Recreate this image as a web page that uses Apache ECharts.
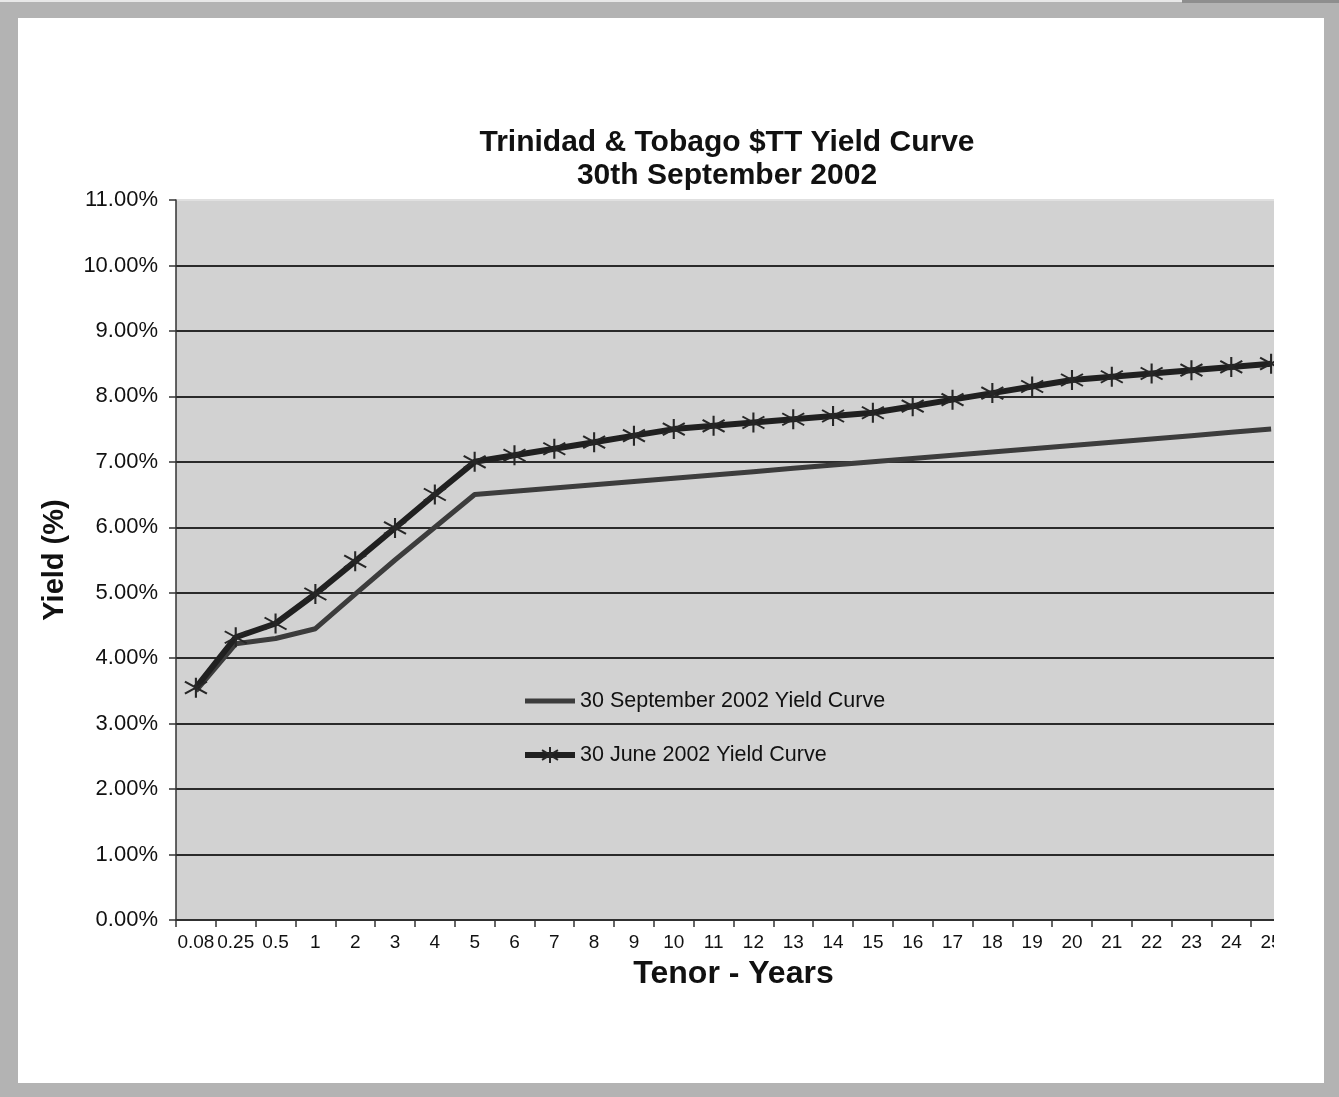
<!DOCTYPE html>
<html>
<head>
<meta charset="utf-8">
<script src="https://cdn.jsdelivr.net/npm/echarts@6/dist/echarts.min.js"></script>
<style>
html,body{margin:0;padding:0;background:#b3b3b3;}
#chart{width:1339px;height:1097px;}
</style>
</head>
<body>
<div id="chart"></div>
<script>
const tenors = ['0.08','0.25','0.5','1','2','3','4','5','6','7','8','9','10','11','12','13','14','15','16','17','18','19','20','21','22','23','24','25'];
const sept2002 = [3.50,4.22,4.30,4.45,4.98,5.50,6.00,6.50,6.55,6.60,6.65,6.70,6.75,6.80,6.85,6.90,6.95,7.00,7.05,7.10,7.15,7.20,7.25,7.30,7.35,7.40,7.45,7.50];
const june2002 = [3.55,4.32,4.53,4.98,5.48,5.99,6.50,7.00,7.10,7.20,7.30,7.40,7.50,7.55,7.60,7.65,7.70,7.75,7.85,7.95,8.05,8.15,8.25,8.30,8.35,8.40,8.45,8.50];
const seriesNames = ['30 September 2002 Yield Curve','30 June 2002 Yield Curve'];

const chart = echarts.init(document.getElementById('chart'), null, {renderer:'canvas'});
const FONT = '"Liberation Sans", Arial, sans-serif';
const star = 'path://M11,0L11,20M0,4L22,16M0,16L22,4';
const BG = '#d2d2d2';
const gridColors = ['#2a2a2a','#2a2a2a','#2a2a2a','#2a2a2a','#2a2a2a','#2a2a2a','#2a2a2a','#2a2a2a','#2a2a2a','#2a2a2a','#2a2a2a','#e0e0e0'];

chart.setOption({
  backgroundColor: 'transparent',
  animation: false,
  textStyle: {fontFamily: FONT},
  title: {
    text: 'Trinidad & Tobago $TT Yield Curve\n30th September 2002',
    left: 722, top: 121, textAlign: 'center',
    textStyle: {fontFamily: FONT, fontSize: 30, fontWeight: 'bold', color: '#111', lineHeight: 33}
  },
  legend: {
    orient: 'vertical', left: 517, top: 685,
    itemWidth: 50, itemHeight: 20, itemGap: 32,
    textStyle: {fontFamily: FONT, fontSize: 21.5, color: '#111', lineHeight: 20},
    data: [
      {name: seriesNames[0], lineStyle: {width: 5, color: '#3c3c3c'}},
      {name: seriesNames[1], lineStyle: {width: 6, color: '#202020'}}
    ]
  },
  grid: {left: 176, top: 200, right: 48, bottom: 177, show: true, backgroundColor: BG, borderWidth: 0},
  xAxis: {
    type: 'category', data: tenors, boundaryGap: true,
    name: 'Tenor - Years', nameLocation: 'middle', nameGap: 38,
    nameTextStyle: {fontFamily: FONT, fontSize: 32, fontWeight: 'bold', color: '#111'},
    axisLine: {show: true, lineStyle: {color: '#333', width: 1.5}},
    axisTick: {show: true, length: 7, interval: 0, lineStyle: {color: '#333', width: 1.5}},
    axisLabel: {interval: 0, fontFamily: FONT, fontSize: 19, color: '#111', margin: 13}
  },
  yAxis: {
    type: 'value', min: 0, max: 11, interval: 1,
    name: 'Yield (%)', nameLocation: 'middle', nameGap: 107, nameRotate: 90,
    nameTextStyle: {fontFamily: FONT, fontSize: 29, fontWeight: 'bold', color: '#111'},
    axisLine: {show: true, lineStyle: {color: '#333', width: 1.5}},
    axisTick: {show: true, length: 7, lineStyle: {color: '#333', width: 1.5}},
    axisLabel: {fontFamily: FONT, fontSize: 22, color: '#111', margin: 18, formatter: v => v.toFixed(2) + '%'},
    splitLine: {show: true, lineStyle: {color: gridColors, width: 2}}
  },
  series: [
    {
      name: seriesNames[0], type: 'line', data: sept2002,
      symbol: 'none', lineStyle: {color: '#3c3c3c', width: 5},
      itemStyle: {color: 'rgba(0,0,0,0)', borderColor: 'rgba(0,0,0,0)', borderWidth: 0},
      z: 2
    },
    {
      name: seriesNames[1], type: 'line', data: june2002,
      symbol: star, symbolSize: [22, 20], showSymbol: true,
      lineStyle: {color: '#202020', width: 6},
      itemStyle: {color: 'rgba(0,0,0,0)', borderColor: '#262626', borderWidth: 2},
      z: 3
    }
  ],
  graphic: [
    {type: 'rect', z: -10, shape: {x: 18, y: 18, width: 1306, height: 1065}, style: {fill: '#ffffff'}},
    {type: 'rect', z: -10, shape: {x: 0, y: 0, width: 1182, height: 2}, style: {fill: '#e8e8e8'}},
    {type: 'rect', z: -10, shape: {x: 1182, y: 0, width: 157, height: 3}, style: {fill: '#8e8e8e'}},
    {type: 'rect', z: 100, shape: {x: 1274, y: 190, width: 50, height: 780}, style: {fill: '#ffffff'}}
  ]
});
</script>
</body>
</html>
